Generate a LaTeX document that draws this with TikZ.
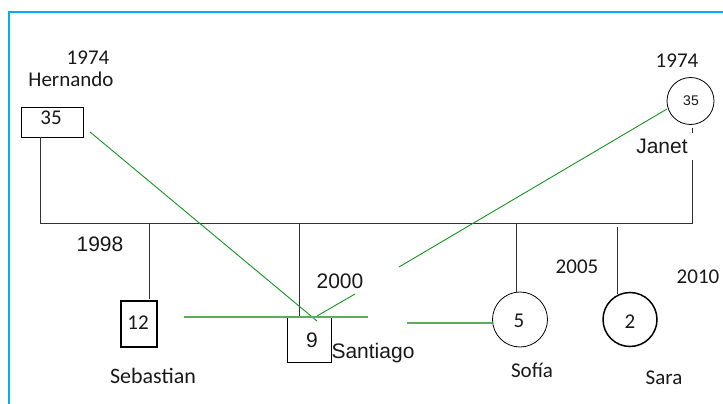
\documentclass[tikz,border=0pt]{standalone}
\usepackage{fontspec}
\setmainfont{Carlito}
\newfontfamily\arialf{Liberation Sans}
\definecolor{frameblue}{RGB}{0,176,240}
\definecolor{gdark}{RGB}{20,150,30}
\definecolor{glight}{RGB}{90,175,90}
\definecolor{inkc}{RGB}{25,25,25}
\begin{document}
\begin{tikzpicture}[x=1pt,y=-1pt,
  cal/.style={inner sep=0pt,anchor=base,text=inkc,font=\fontsize{21}{24}\selectfont},
  ari/.style={inner sep=0pt,anchor=base,text=inkc,font=\arialf\fontsize{21}{24}\selectfont},
  ln/.style={draw=black!80,line width=0.9pt},
  glnA/.style={draw=gdark,line width=0.9pt},
  glnB/.style={draw=glight,line width=1.3pt}]
\useasboundingbox (0,0) rectangle (723,404);
% frame
\draw[frameblue,line width=2pt] (9,404) -- (9,12) -- (723,12);
% parents
\node[draw=black,line width=0.8pt,minimum width=62pt,minimum height=30pt,inner sep=0pt] (hbox) at (52,122) {};
\node[cal] (h35) at (51,124) {35};
\node[cal] (hyear) at (88,64) {1974};
\node[cal] (hname) at (71,87) {Hernando};
\node[draw=black,line width=0.8pt,circle,minimum size=47pt,inner sep=0pt] (jcirc) at (690.5,101) {};
\node[ari,font=\arialf\fontsize{14}{16}\selectfont] (j35) at (691,105) {35};
\node[cal] (jyear) at (677,68) {1974};
\node[ari] (jname) at (662,153) {Janet};
% marriage line
\coordinate (hl) at (40,223);
\coordinate (hr) at (692,223);
\coordinate (jt) at (692,160);
\draw[ln] (hbox.south -| hl) -- (hl) -- (hr) -- (jt);
\draw[ln] (692,128) -- (692,133);
% children
\node[draw=black,line width=1.5pt,minimum width=36pt,minimum height=46pt,inner sep=0pt] (sebbox) at (139,324) {};
\node[cal] (s12) at (138,329) {12};
\node[cal,font=\fontsize{22}{24}\selectfont] (sebname) at (153,383) {Sebastian};
\node[ari] (y1998) at (100,251) {1998};
\draw[ln] (149,223) -- (149,299);

\node[draw=black,line width=0.8pt,minimum width=44pt,minimum height=45pt,inner sep=0pt] (santbox) at (309,339.5) {};
\node[ari] (s9) at (312,347) {9};
\node[ari] (santname) at (373,358) {Santiago};
\node[ari] (y2000) at (340,288) {2000};
\draw[ln] (299,223) -- (299,317);

\node[draw=black,line width=0.8pt,circle,minimum size=55pt,inner sep=0pt] (sofcirc) at (520,319.5) {};
\node[cal] (s5) at (519,327) {5};
\node[cal] (sofname) at (532,377) {Sofía};
\node[cal] (y2005) at (577,273) {2005};
\draw[ln] (516,223) -- (516,292.5);

\node[draw=black,line width=1.5pt,circle,minimum size=54pt,inner sep=0pt] (saracirc) at (630,319.5) {};
\node[cal] (s2) at (630,328) {2};
\node[cal] (saraname) at (664,384) {Sara};
\node[cal] (y2010) at (698,283) {2010};
\draw[ln] (617,227) -- (617,293.5);
% green lines
\coordinate (g1a) at (90,132);
\coordinate (g1b) at (317,321);
\draw[glnA] (g1a) -- (g1b);
\coordinate (g2a) at (667,109);
\coordinate (g2b) at (399,267);
\coordinate (g2c) at (355,294);
\coordinate (g2d) at (317,316);
\draw[glnA] (g2a) -- (g2b);
\draw[glnA] (g2c) -- (g2d);
\coordinate (g3a) at (184,317);
\coordinate (g3b) at (368,317);
\draw[glnB] (g3a) -- (g3b);
\coordinate (g4a) at (407,323);
\draw[glnB] (g4a) -- (sofcirc.west |- g4a);
\end{tikzpicture}
\end{document}
